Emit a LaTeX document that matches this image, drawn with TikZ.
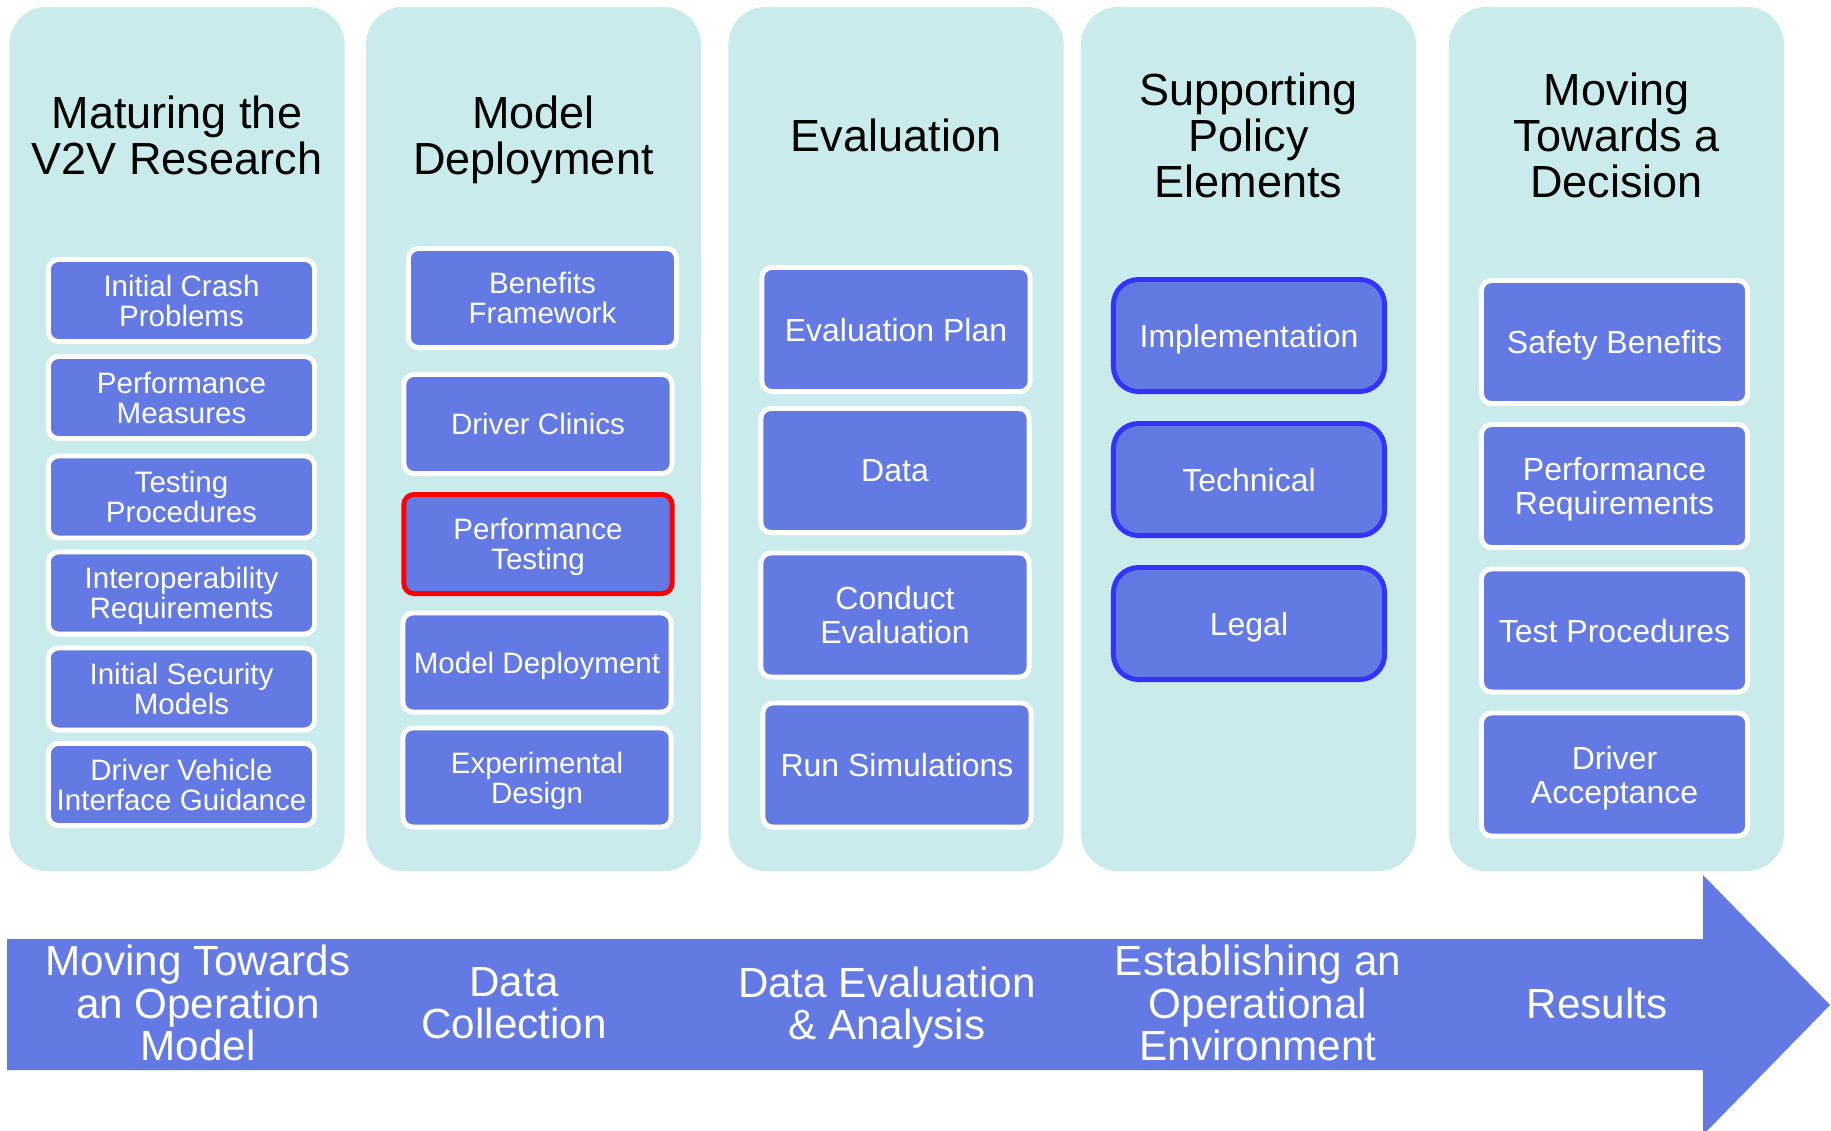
\documentclass[tikz,border=0pt]{standalone}
\usepackage{fontspec}
\setmainfont{Liberation Sans}

\definecolor{lanefill}{RGB}{201,235,235}
\definecolor{tilefill}{RGB}{99,122,228}
\definecolor{edgeblue}{RGB}{51,51,255}
\definecolor{edgered}{RGB}{255,0,0}

\tikzset{
  lane/.style={fill=lanefill, rounded corners=0.38cm, inner sep=0pt,
    minimum width=3.35cm, minimum height=8.64cm},
  heading/.style={align=center, inner sep=0pt, text depth=0pt, text=black,
    font=\fontsize{12.8}{13.1}\selectfont},
  tile/.style={fill=tilefill, draw=white, line width=1.4pt,
    rounded corners=0.1cm, inner sep=0pt, text=white, align=center,
    text depth=0pt},
  tileS/.style={tile, font=\fontsize{8.4}{8.5}\selectfont},
  tileL/.style={tile, font=\fontsize{9.1}{9.7}\selectfont},
  redtile/.style={draw=edgered},
  bluetile/.style={draw=edgeblue, rounded corners=0.25cm},
  stage/.style={align=center, inner sep=0pt, text depth=0pt, text=white,
    font=\fontsize{12}{12.1}\selectfont},
}

\begin{document}
\begin{tikzpicture}[x=0.01cm, y=-0.01cm]
\useasboundingbox (0,0) rectangle (1831,1130);
\clip (0,0) rectangle (1831,1130);

% lanes
\node[lane] (c1) at (177,439) {};
\node[lane] (c2) at (533.5,439) {};
\node[lane] (c3) at (896,439) {};
\node[lane] (c4) at (1248.5,439) {};
\node[lane] (c5) at (1616.5,439) {};

% lane headings
\node[heading] (t1) at (177,135) {Maturing the\\V2V Research};
\node[heading] (t2) at (533.5,135) {Model\\Deployment};
\node[heading] (t3) at (896,135) {Evaluation};
\node[heading] (t4) at (1248.5,135) {Supporting\\Policy\\Elements};
\node[heading] (t5) at (1616.5,135) {Moving\\Towards a\\Decision};

% lane 1
\begin{scope}[every node/.append style={minimum width=2.66cm, minimum height=0.82cm}]
\node[tileS] (b11) at (181.5,300.5) {Initial Crash\\Problems};
\node[tileS] (b12) at (181.5,397.5) {Performance\\Measures};
\node[tileS] (b13) at (181.5,497) {Testing\\Procedures};
\node[tileS] (b14) at (181.5,593) {Interoperability\\Requirements};
\node[tileS] (b15) at (181.5,689) {Initial Security\\Models};
\node[tileS] (b16) at (181.5,784.5) {Driver Vehicle\\Interface Guidance};
\end{scope}

% lane 2
\begin{scope}[every node/.append style={minimum width=2.68cm, minimum height=0.99cm}]
\node[tileS] (b21) at (542.5,298) {Benefits\\Framework};
\node[tileS] (b22) at (538,424) {Driver Clinics};
\node[tileS, redtile] (b23) at (538,544) {Performance\\Testing};
\node[tileS] (b24) at (537,662.5) {Model Deployment};
\node[tileS] (b25) at (537,777.5) {Experimental\\Design};
\end{scope}

% lane 3
\begin{scope}[every node/.append style={minimum width=2.68cm, minimum height=1.24cm}]
\node[tileL] (b31) at (896,329.5) {Evaluation Plan};
\node[tileL] (b32) at (895,470.5) {Data};
\node[tileL] (b33) at (895,615) {Conduct\\Evaluation};
\node[tileL] (b34) at (897,765) {Run Simulations};
\end{scope}

% lane 4
\begin{scope}[every node/.append style={minimum width=2.71cm, minimum height=1.12cm}]
\node[tileL, bluetile] (b41) at (1249,335.5) {Implementation};
\node[tileL, bluetile] (b42) at (1249,479.5) {Technical};
\node[tileL, bluetile] (b43) at (1249,623.5) {Legal};
\end{scope}

% lane 5
\begin{scope}[every node/.append style={minimum width=2.66cm, minimum height=1.23cm}]
\node[tileL] (b51) at (1614.5,342) {Safety Benefits};
\node[tileL] (b52) at (1614.5,486) {Performance\\Requirements};
\node[tileL] (b53) at (1614.5,630.5) {Test Procedures};
\node[tileL] (b54) at (1614.5,774.5) {Driver\\Acceptance};
\end{scope}

% timeline arrow
\fill[tilefill] (7,939) -- (1703,939) -- (1703,875) -- (1830,1005)
  -- (1703,1135) -- (1703,1070) -- (7,1070) -- cycle;

% stages along the arrow
\node[stage] (s1) at (198,1003) {Moving Towards\\an Operation\\Model};
\node[stage] (s2) at (514,1003) {Data\\Collection};
\node[stage] (s3) at (887,1003) {Data Evaluation\\\& Analysis};
\node[stage] (s4) at (1258,1003) {Establishing an\\Operational\\Environment};
\node[stage] (s5) at (1597,1003) {Results};
\end{tikzpicture}
\end{document}
